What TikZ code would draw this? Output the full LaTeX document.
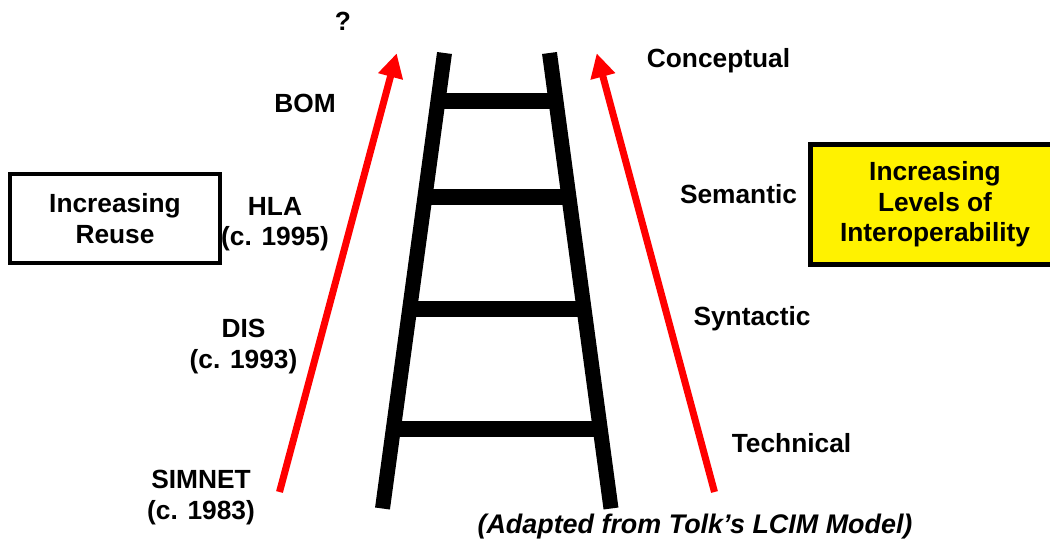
\documentclass[tikz,border=0pt]{standalone}
\usepackage{fontspec}
\setmainfont{Liberation Sans}
\usetikzlibrary{arrows.meta,calc}

\tikzset{
  lbl/.style={font=\fontsize{26.3}{30.5}\selectfont\bfseries, align=center, inner sep=0pt},
  rail/.style={line width=15pt},
  rung/.style={line width=16pt},
  uparrow/.style={draw=red, line width=7pt, -{Triangle[length=24pt,width=24pt]}},
}

\begin{document}
\begin{tikzpicture}[x=1pt,y=-1pt]
\useasboundingbox (0,0) rectangle (1050,549);

% ladder
\coordinate (lb) at (382.5,508.5);
\coordinate (lt) at (444.5,53);
\coordinate (rb) at (611,508.5);
\coordinate (rt) at (549.5,53);
\foreach \y in {101,197,309,429}{
  \pgfmathsetmacro\t{(508.5-\y)/455.5}
  \draw[rung] ($(lb)!\t!(lt)$) -- ($(rb)!\t!(rt)$);
}
\draw[rail] (lb) -- (lt);
\draw[rail] (rb) -- (rt);

% arrows
\coordinate (lfoot) at (279.5,492);
\coordinate (ltip) at (396.7,53.3);
\coordinate (rfoot) at (714.5,492);
\coordinate (rtip) at (596.7,53.3);
\draw[uparrow] (lfoot) -- (ltip);
\draw[uparrow] (rfoot) -- (rtip);

\node[lbl, anchor=base] (ask) at (343,30.5) {?};
\node[lbl, anchor=base] (bom) at (305,112) {BOM};
\node[lbl] (hla) at (275,224.4) {HLA\\(c. 1995)};
\node[lbl] (dis) at (243.5,346.4) {DIS\\(c. 1993)};
\node[lbl] (simnet) at (201,497.4) {SIMNET\\(c. 1983)};

\node[lbl, anchor=base] (concept) at (718.5,67) {Conceptual};
\node[lbl, anchor=base] (semant) at (738.5,203) {Semantic};
\node[lbl, anchor=base] (syntax) at (752,325) {Syntactic};
\node[lbl, anchor=base] (techn) at (791.5,452) {Technical};

\node[lbl, draw, line width=4pt, minimum width=210pt, minimum height=89pt] (reuse) at (115,218.5) {Increasing\\Reuse};
\node[lbl, draw, fill=yellow, line width=5pt, minimum width=249pt, minimum height=120pt] (interop) at (935,204.5) {Increasing\\Levels of\\Interoperability};

\node[lbl, anchor=base, font=\fontsize{26.9}{30.5}\selectfont\bfseries\itshape] (source) at (695,533) {(Adapted from Tolk’s LCIM Model)};
\end{tikzpicture}
\end{document}
